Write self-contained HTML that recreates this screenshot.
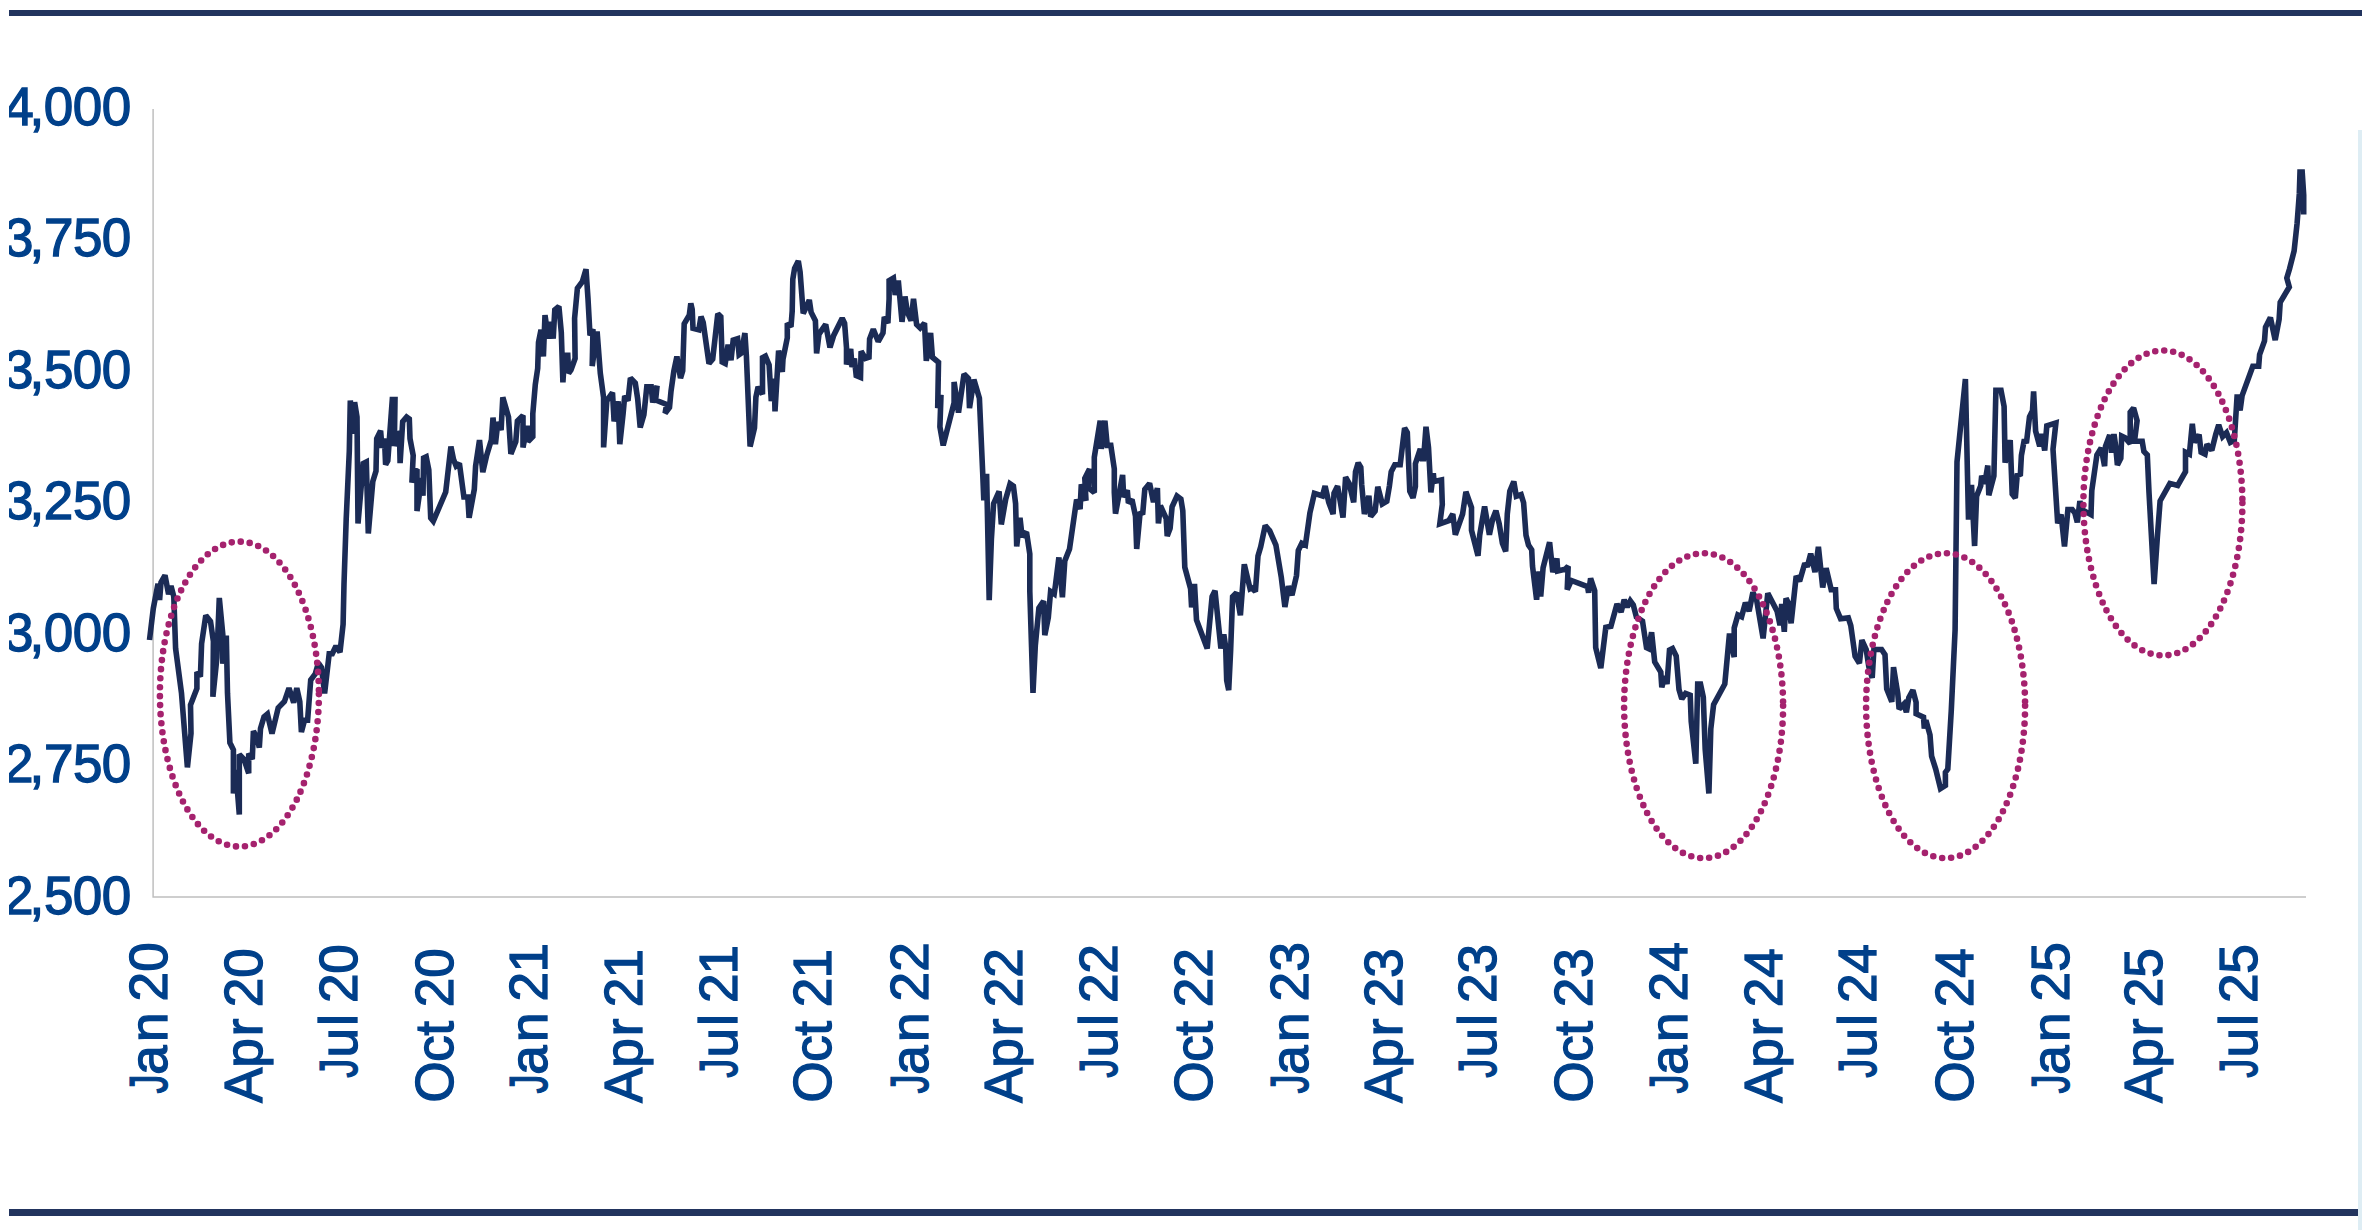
<!DOCTYPE html>
<html><head><meta charset="utf-8"><style>
html,body{margin:0;padding:0;background:#fff;width:2362px;height:1230px;overflow:hidden}
svg{display:block;font-family:"Liberation Sans",sans-serif;font-size:53px;}
text{fill:#00408a;stroke:#00408a;stroke-width:1.3px}
</style></head><body>
<svg width="2362" height="1230" viewBox="0 0 2362 1230">
<defs><clipPath id="c"><rect x="9" y="0" width="2353" height="1230"/></clipPath></defs>
<g clip-path="url(#c)">
<rect x="9" y="10" width="2353" height="6" fill="#22345e"/>
<rect x="9" y="1209" width="2349" height="7" fill="#22345e"/>
<rect x="2358" y="130" width="4" height="1100" fill="#deedf4"/>
<path d="M153.1,109 V897 H2306" fill="none" stroke="#bfbfbf" stroke-width="1.5"/>
<text x="4.13 29.44 43.86 72.86 101.86" y="124.6">4,000</text>
<text x="4.12 29.44 44.00 72.91 101.86" y="256.1">3,750</text>
<text x="4.12 29.44 43.91 72.86 101.86" y="387.6">3,500</text>
<text x="4.12 29.44 43.86 72.91 101.86" y="519.2">3,250</text>
<text x="4.12 29.44 43.86 72.86 101.86" y="650.7">3,000</text>
<text x="3.96 29.44 44.00 72.91 101.86" y="782.2">2,750</text>
<text x="3.96 29.44 43.91 72.86 101.86" y="913.7">2,500</text>
<text transform="translate(166.6,1100) rotate(-90) translate(6.58,0) scale(0.72,1)" x="0" y="0">J</text>
<text transform="translate(166.6,1100) rotate(-90)" x="25.39 57.92 98.41 128.26" y="0">an20</text>
<text transform="translate(261.9,1100) rotate(-90)" x="-3.03 32.37 63.86 92.66 122.16" y="0">Apr20</text>
<text transform="translate(356.7,1100) rotate(-90) translate(22.33,0) scale(0.72,1)" x="0" y="0">J</text>
<text transform="translate(356.7,1100) rotate(-90)" x="42.55 74.05 97.01 126.31" y="0">ul20</text>
<text transform="translate(452.7,1100) rotate(-90)" x="-2.40 38.27 64.28 92.66 122.16" y="0">Oct20</text>
<text transform="translate(547.4,1100) rotate(-90) translate(6.58,0) scale(0.72,1)" x="0" y="0">J</text>
<text transform="translate(547.4,1100) rotate(-90)" x="25.39 57.92 98.41 127.54" y="0">an21</text>
<text transform="translate(641.9,1100) rotate(-90)" x="-3.03 32.37 63.86 92.66 121.44" y="0">Apr21</text>
<text transform="translate(736.7,1100) rotate(-90) translate(22.33,0) scale(0.72,1)" x="0" y="0">J</text>
<text transform="translate(736.7,1100) rotate(-90)" x="42.55 74.05 97.01 125.59" y="0">ul21</text>
<text transform="translate(831.2,1100) rotate(-90)" x="-2.40 38.27 64.28 92.66 121.44" y="0">Oct21</text>
<text transform="translate(927.6,1100) rotate(-90) translate(6.58,0) scale(0.72,1)" x="0" y="0">J</text>
<text transform="translate(927.6,1100) rotate(-90)" x="25.39 57.92 98.41 128.26" y="0">an22</text>
<text transform="translate(1021.7,1100) rotate(-90)" x="-3.03 32.37 63.86 92.66 122.16" y="0">Apr22</text>
<text transform="translate(1116.8,1100) rotate(-90) translate(22.33,0) scale(0.72,1)" x="0" y="0">J</text>
<text transform="translate(1116.8,1100) rotate(-90)" x="42.55 74.05 97.01 126.31" y="0">ul22</text>
<text transform="translate(1212.0,1100) rotate(-90)" x="-2.40 38.27 64.28 92.66 122.16" y="0">Oct22</text>
<text transform="translate(1307.6,1100) rotate(-90) translate(6.58,0) scale(0.72,1)" x="0" y="0">J</text>
<text transform="translate(1307.6,1100) rotate(-90)" x="25.39 57.92 98.41 128.42" y="0">an23</text>
<text transform="translate(1401.9,1100) rotate(-90)" x="-3.03 32.37 63.86 92.66 122.32" y="0">Apr23</text>
<text transform="translate(1495.6,1100) rotate(-90) translate(22.33,0) scale(0.72,1)" x="0" y="0">J</text>
<text transform="translate(1495.6,1100) rotate(-90)" x="42.55 74.05 97.01 126.47" y="0">ul23</text>
<text transform="translate(1592.0,1100) rotate(-90)" x="-2.40 38.27 64.28 92.66 122.32" y="0">Oct23</text>
<text transform="translate(1687.4,1100) rotate(-90) translate(6.58,0) scale(0.72,1)" x="0" y="0">J</text>
<text transform="translate(1687.4,1100) rotate(-90)" x="25.39 57.92 98.41 128.43" y="0">an24</text>
<text transform="translate(1782.3,1100) rotate(-90)" x="-3.03 32.37 63.86 92.66 122.33" y="0">Apr24</text>
<text transform="translate(1876.4,1100) rotate(-90) translate(22.33,0) scale(0.72,1)" x="0" y="0">J</text>
<text transform="translate(1876.4,1100) rotate(-90)" x="42.55 74.05 97.01 126.48" y="0">ul24</text>
<text transform="translate(1973.0,1100) rotate(-90)" x="-2.40 38.27 64.28 92.66 122.33" y="0">Oct24</text>
<text transform="translate(2068.8,1100) rotate(-90) translate(6.58,0) scale(0.72,1)" x="0" y="0">J</text>
<text transform="translate(2068.8,1100) rotate(-90)" x="25.39 57.92 98.41 128.31" y="0">an25</text>
<text transform="translate(2161.9,1100) rotate(-90)" x="-3.03 32.37 63.86 92.66 122.21" y="0">Apr25</text>
<text transform="translate(2257.4,1100) rotate(-90) translate(22.33,0) scale(0.72,1)" x="0" y="0">J</text>
<text transform="translate(2257.4,1100) rotate(-90)" x="42.55 74.05 97.01 126.36" y="0">ul25</text>
<path d="M149.5,640.0 L153.3,608.4 L158,583.7 L159.6,600.1 L161,582.4 L165,575.4 L168.6,594.2 L171,586.0 L173.8,596.6 L175.6,648.4 L181.5,693.2 L187.4,767.4 L191,733.3 L190.5,705.0 L196.9,688.5 L196.9,672.0 L200.4,676.7 L201.6,643.7 L205.8,615.4 L210.5,621.3 L213.4,641.4 L212.9,696.7 L216.9,657.9 L219.3,597.9 L222.8,634.3 L222.8,663.7 L226.3,635.6 L227.5,693.2 L229.9,742.7 L233.4,749.8 L233.4,793.4 L235.8,769.9 L239.3,814.6 L239.3,754.5 L244,759.2 L248.7,773.3 L248.7,753.4 L252.3,759.2 L253.4,731.0 L257,738.0 L259.3,747.5 L260.5,728.6 L264,716.8 L267.4,714.0 L272,733.7 L278.2,707.8 L284.4,701.6 L289,688.2 L293.7,702.7 L296.8,688.2 L299.8,701.6 L301.4,732.1 L304.5,720.2 L307.6,720.2 L310.7,680.0 L315.3,673.8 L318.4,663.0 L321.5,667.6 L324.6,693.5 L329.2,653.7 L332.3,653.7 L336,646.0 L340,652.2 L343.1,624.3 L344,584.0 L346.2,519.2 L349.3,451.1 L350.3,400.5 L353.4,433.7 L354.6,402.1 L357,417.0 L358,523.4 L363.2,463.5 L366.3,462.0 L368.3,533.4 L372.8,481.5 L376,471.0 L376.7,438.6 L380.6,430.8 L382,447.7 L384.5,438.6 L385.6,464.6 L387.8,460.7 L392.3,399.5 L395,399.5 L394.3,446.1 L397.5,432.0 L399.5,434.7 L400.1,463.1 L402.7,421.6 L406.6,417.0 L409.3,419.0 L410,438.6 L413.2,455.5 L411.9,482.6 L414.5,469.8 L417,471.0 L417,511.1 L419.7,492.0 L421,477.9 L423,495.6 L423.6,458.0 L426.2,456.8 L428.8,469.8 L430.7,518.0 L433.3,521.2 L445.7,492.0 L450.9,446.6 L453.5,459.4 L456.1,466.0 L459.4,463.3 L463.9,497.0 L467.8,497.0 L469.1,517.8 L474.3,489.3 L475.6,466.0 L479.5,440.1 L482.8,472.1 L486.5,456.0 L491.4,439.8 L493,417.6 L495.4,444.1 L497.9,422.0 L501.1,430.0 L502.8,397.3 L508.5,417.0 L510.9,453.9 L515.8,441.5 L517.4,421.1 L523,415.4 L523,447.4 L527.2,425.7 L528,441.5 L532.8,436.6 L532.8,413.8 L535.3,384.6 L537.7,368.3 L538.5,342.3 L541,329.8 L541.8,342.3 L543.4,356.4 L545,315.2 L548.3,338.5 L549.9,321.7 L553.2,338.5 L554.8,309.8 L558.9,306.5 L561.3,332.5 L562.9,382.4 L564.6,355.3 L567.8,355.3 L568.6,373.2 L571,370.0 L575.1,358.5 L574.6,318.3 L577.4,288.2 L582.3,281.7 L586,269.2 L588,298.8 L590,335.4 L593,329.3 L592.2,366.1 L597.1,331.4 L600.3,373.2 L603.6,397.6 L603.6,447.4 L606.8,400.8 L612.5,392.7 L614.1,421.4 L618.2,401.3 L619.8,444.1 L623.1,413.8 L624.7,395.9 L628,400.8 L630.4,378.0 L635.3,383.0 L637.7,399.2 L640.2,427.5 L643.9,414.7 L646.8,386.9 L651.2,386.9 L652.7,402.6 L657.1,385.8 L655.6,400.0 L666.6,404.5 L665.1,413.2 L669.5,407.4 L671,391.3 L673.9,370.8 L676.9,356.5 L680.5,378.1 L682.7,370.8 L684.2,323.9 L689.3,315.1 L690.8,303.4 L692.2,309.3 L693,328.3 L698.8,329.8 L701,316.6 L703.2,322.5 L709,363.5 L712.7,359.1 L717.8,313.7 L720.8,316.6 L722.2,362.0 L725.2,363.5 L728.1,344.8 L731,360.2 L733.2,340.0 L737.6,338.6 L739.1,354.7 L741.3,353.2 L744.9,333.1 L746.4,356.1 L750.1,446.5 L754.5,427.9 L755.9,397.1 L758.1,386.9 L762.5,394.2 L762.5,357.6 L765.4,356.1 L769.1,364.9 L771.3,401.1 L774.2,378.5 L775,411.4 L778.6,350.6 L782.3,371.9 L783,359.1 L787.3,337.8 L787.3,323.2 L791,326.8 L792.2,311.0 L792.8,279.3 L794.6,268.3 L798.3,261.0 L800.1,272.0 L803.2,313.4 L806.2,307.3 L809.3,300.0 L811.1,312.2 L815.4,320.7 L816.6,353.5 L819,334.1 L825.7,324.4 L830,347.4 L833.7,335.4 L842.2,318.3 L844.6,323.2 L846.5,347.6 L846.5,364.5 L850.7,348.9 L852,367.0 L854.4,358.5 L856.2,375.6 L860.5,377.4 L861.1,351.2 L865.4,358.5 L869,357.3 L869.6,339.0 L873.3,329.3 L878.2,341.5 L883,333.0 L884.3,317.0 L887.9,323.2 L889.1,298.8 L889.1,280.5 L893.4,278.0 L895.2,295.0 L898.3,280.6 L902,321.8 L905,296.5 L907.4,312.2 L911.1,320.7 L913.5,298.9 L916.6,324.4 L920.2,328.0 L924.5,323.2 L926.3,360.9 L930.6,333.0 L932.4,357.3 L938.5,362.2 L937.7,408.1 L941,394.9 L939.9,426.8 L943.2,445.4 L954.1,402.7 L954.1,381.9 L958.5,412.5 L964,374.1 L968.4,378.5 L969.5,408.1 L973.9,379.6 L979.4,398.3 L982.7,472.9 L983.8,500.3 L986.6,473.9 L989.2,600.1 L991.4,538.7 L993.6,503.6 L999.1,491.5 L1001.3,524.4 L1005.7,499.2 L1010.1,483.8 L1013.4,486.0 L1015.6,503.6 L1016.7,546.4 L1020,517.9 L1022.1,536.5 L1026.5,532.1 L1029.8,554.0 L1029.8,591.3 L1033,692.8 L1035.3,645.8 L1038.9,608.0 L1043.6,601.0 L1044.8,635.1 L1048.3,617.5 L1050.6,591.5 L1054.2,593.9 L1055.4,585.6 L1058.9,557.4 L1062.4,597.3 L1064.8,560.9 L1069.5,549.1 L1076.6,499.6 L1080.1,509.0 L1081.3,484.3 L1086,500.7 L1084.8,478.4 L1089.5,468.9 L1088.4,487.8 L1094.3,492.5 L1094.3,457.2 L1100.2,420.7 L1101.3,448.8 L1104.9,420.7 L1107.2,445.4 L1110.8,445.4 L1114.3,468.9 L1114.3,492.5 L1115.5,513.7 L1119,494.9 L1122.6,474.9 L1123.7,497.2 L1127.3,490.2 L1128.4,503.1 L1132,499.6 L1135.5,516.1 L1136.7,549.0 L1140,513.7 L1142.8,512.7 L1144.8,489.3 L1149.6,483.4 L1153.5,502.1 L1157.4,488.2 L1158.4,523.5 L1160.4,505.7 L1166.2,518.5 L1167.2,536.1 L1170.1,528.3 L1172.1,506.8 L1177,496.1 L1180.9,499.0 L1182.8,510.7 L1184.8,567.3 L1190.6,588.8 L1191.6,607.4 L1194.5,583.8 L1196.5,620.0 L1207.2,648.4 L1212.1,596.6 L1215,590.7 L1220.9,648.4 L1223.8,634.5 L1225.7,647.3 L1226.7,680.5 L1228.7,690.2 L1230.6,651.2 L1232.6,596.6 L1236.5,592.7 L1240.4,615.2 L1244.3,564.3 L1250.1,588.8 L1251.8,588.0 L1255.4,591.6 L1258,555.9 L1260.7,546.9 L1265.2,525.5 L1269.7,530.8 L1275.9,545.1 L1281.3,577.3 L1284.9,607.0 L1288.4,586.2 L1292,595.2 L1296.5,575.5 L1298.3,550.5 L1301.8,543.3 L1305.4,545.1 L1309.9,513.0 L1314.4,493.3 L1322.4,496.0 L1325.1,486.1 L1328.7,502.2 L1333.1,514.1 L1334,493.3 L1337.6,486.1 L1343,517.6 L1345.6,477.2 L1349.2,483.5 L1353.7,502.4 L1355.5,471.8 L1358.2,462.9 L1360.8,467.4 L1361.7,484.4 L1364.4,514.1 L1368.9,495.8 L1370.7,516.5 L1375.1,511.2 L1377.8,486.8 L1382.3,504.0 L1386.8,501.3 L1389.4,486.1 L1391.2,471.8 L1394.8,464.7 L1400.2,464.7 L1404.6,428.0 L1407.3,432.5 L1409.8,491.3 L1413,497.8 L1415.4,486.4 L1415.4,463.7 L1420.3,449.0 L1422,458.8 L1423.6,458.8 L1426,426.8 L1428.5,447.4 L1430.9,492.4 L1433.3,473.4 L1434.1,481.5 L1441.5,480.0 L1442.3,504.3 L1439.8,523.8 L1448.8,520.6 L1452.8,514.0 L1455.3,534.7 L1462.6,514.0 L1465.9,491.8 L1471.5,507.6 L1471.5,530.3 L1478,555.8 L1479.7,535.2 L1484.6,506.5 L1489.4,534.7 L1492.7,519.0 L1495.9,510.8 L1499.2,523.8 L1502.4,543.3 L1505.7,551.5 L1507.3,514.0 L1509.8,491.3 L1513.8,481.5 L1516.3,496.2 L1521.1,494.6 L1523.6,502.7 L1526,535.2 L1528.5,545.0 L1531.7,549.8 L1532.5,566.1 L1536.6,599.7 L1539,571.5 L1540.7,596.5 L1543.1,567.7 L1549.6,542.2 L1552.8,572.1 L1556.9,558.5 L1557.7,571.0 L1565.2,569.3 L1568.2,566.3 L1567.2,589.7 L1571.3,580.5 L1587.5,586.6 L1588.6,592.7 L1590.6,578.4 L1594.7,590.7 L1595.7,647.6 L1600.8,668.1 L1605.8,627.3 L1610.9,626.3 L1617,603.9 L1621.1,612.0 L1624.2,599.8 L1627.2,607.0 L1630.3,600.8 L1633.3,605.0 L1636.4,617.1 L1642.5,621.2 L1646.5,647.6 L1648.6,648.6 L1651.6,632.3 L1654.7,661.9 L1660.8,672.0 L1661.8,687.4 L1664.8,676.1 L1667,684.0 L1669.5,650.0 L1672.5,648.5 L1676.2,656.0 L1679,689.6 L1681.8,699.0 L1685.6,693.4 L1690.2,695.2 L1691.2,721.4 L1695.8,763.6 L1697.7,684.0 L1700.5,684.0 L1703.3,697.1 L1705.2,749.4 L1708.9,793.5 L1710.8,728.9 L1713.6,704.6 L1724.8,684.0 L1728.6,642.9 L1729.5,633.6 L1734.2,657.1 L1734.2,628.0 L1737.9,614.9 L1741.6,616.7 L1745.4,602.7 L1749.1,611.1 L1752.9,592.4 L1756.6,599.9 L1763.1,638.4 L1767.8,593.2 L1777.1,611.1 L1780,625.3 L1781.7,604.0 L1784.3,631.8 L1786,598.3 L1788.5,603.4 L1791.1,623.3 L1796.2,576.1 L1799.6,581.2 L1804.8,563.3 L1807.3,566.7 L1810.7,553.7 L1815,572.1 L1818.4,546.8 L1822.7,587.4 L1826.1,568.2 L1831.2,589.7 L1835.5,589.7 L1836.3,608.5 L1840.6,618.8 L1848.3,617.9 L1850.8,625.6 L1855.1,656.3 L1859.4,663.2 L1861.9,640.1 L1866.2,649.5 L1868.8,666.6 L1872.2,677.9 L1873.9,649.5 L1881.6,649.5 L1885,654.6 L1886.7,688.8 L1891.8,701.8 L1893.5,667.2 L1897.8,693.9 L1899.1,708.9 L1903.9,704.1 L1906.4,712.2 L1908.8,697.6 L1912.9,690.2 L1916.1,702.4 L1916.1,713.8 L1923.5,717.1 L1924.3,728.5 L1925.9,720.3 L1930,735.0 L1931.6,756.1 L1935.7,769.1 L1940.5,788.6 L1945.4,785.4 L1945.4,772.4 L1947.8,769.1 L1951.3,710.0 L1955.1,630.0 L1957,462.0 L1965.4,379.1 L1967.5,475.8 L1968.5,519.6 L1971.5,484.8 L1974.6,546.0 L1976.6,496.1 L1980.7,485.9 L1981.7,475.8 L1984.7,483.9 L1987.8,465.5 L1988.8,495.2 L1993.9,475.8 L1995.9,390.3 L2001,390.3 L2004.1,406.6 L2005.1,462.6 L2010.2,440.1 L2012.2,494.1 L2015.3,498.1 L2017.3,473.7 L2020.3,475.8 L2021.4,455.4 L2024.4,439.2 L2026.4,443.2 L2029.5,416.8 L2032.5,410.7 L2033.6,391.3 L2035.6,431.0 L2039.7,446.4 L2041.7,434.0 L2044.7,450.4 L2046.8,425.9 L2055.9,422.9 L2053,449.3 L2057,512.4 L2057.7,523.2 L2061.1,514.6 L2064.5,546.4 L2067.9,509.5 L2072.2,509.5 L2074.8,512.9 L2077.3,522.3 L2079.9,501.0 L2081.6,509.5 L2091,514.6 L2091.8,490.7 L2096.9,454.9 L2101.2,448.0 L2104.6,466.2 L2105.5,446.3 L2109.7,435.0 L2111.5,452.6 L2114,434.1 L2115.7,446.3 L2117.4,465.1 L2120.8,458.3 L2121.7,436.1 L2125.1,437.8 L2130.2,443.8 L2130.2,412.2 L2133.6,407.9 L2137.1,420.7 L2134.5,441.2 L2142.2,441.2 L2143.9,451.5 L2147.3,454.9 L2149,492.4 L2154.1,584.0 L2157.5,535.1 L2160.1,501.0 L2169.9,483.4 L2177.7,485.4 L2185.5,471.7 L2185.5,452.2 L2189.4,454.1 L2192.3,423.8 L2194.3,442.4 L2199.1,434.6 L2201.1,452.2 L2205,454.1 L2207,444.4 L2211.8,450.2 L2215.7,434.6 L2218.7,424.9 L2222.6,436.6 L2226.5,432.7 L2230.4,442.4 L2234.3,440.5 L2237.2,394.5 L2240.1,410.4 L2242.1,395.6 L2252.8,366.3 L2258.7,366.3 L2259.6,354.6 L2264.5,341.0 L2265.5,327.3 L2270.4,317.6 L2275.2,340.1 L2279.1,319.5 L2280.2,302.3 L2289.3,287.0 L2286.8,278.0 L2289.5,269.0 L2294.1,251.0 L2297.1,223.2 L2299.3,193.9 L2300,172.0 L2302.2,172.0 L2303.7,195.0 L2303.7,214.4" fill="none" stroke="#1b2b55" stroke-width="5.6" stroke-linejoin="miter" stroke-miterlimit="2"/>
<ellipse cx="239.4" cy="694.1" rx="79.5" ry="152.45" fill="none" stroke="#a5226e" stroke-width="6.6" stroke-linecap="round" stroke-dasharray="0 9.05"/>
<ellipse cx="1703.6" cy="705.7" rx="79.5" ry="152.45" fill="none" stroke="#a5226e" stroke-width="6.6" stroke-linecap="round" stroke-dasharray="0 9.05"/>
<ellipse cx="1945.6" cy="705.7" rx="79.5" ry="152.45" fill="none" stroke="#a5226e" stroke-width="6.6" stroke-linecap="round" stroke-dasharray="0 9.05"/>
<ellipse cx="2162.9" cy="503.0" rx="79.5" ry="152.45" fill="none" stroke="#a5226e" stroke-width="6.6" stroke-linecap="round" stroke-dasharray="0 9.05"/>
</g></svg></body></html>
